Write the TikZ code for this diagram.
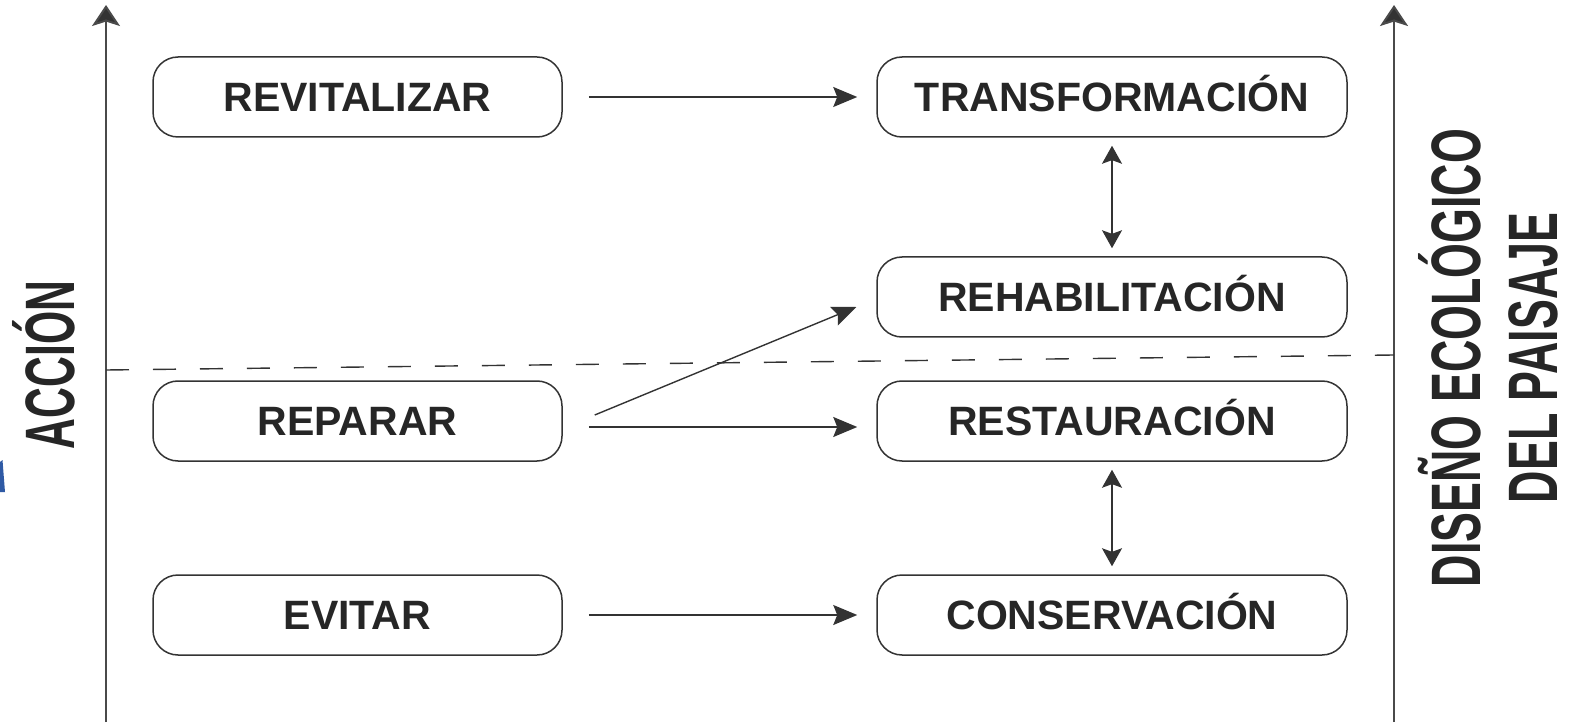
\documentclass[tikz,border=0pt]{standalone}
\usepackage{fontspec}
\setmainfont{Liberation Sans}
\usetikzlibrary{arrows.meta,calc}
\definecolor{ink}{HTML}{262626}
\definecolor{linec}{HTML}{333333}
\definecolor{axisc}{HTML}{4A4A4A}
\definecolor{bluemk}{HTML}{2F5AA5}
\begin{document}
\begin{tikzpicture}[x=0.5pt,y=-0.5pt,
 box/.style={draw=linec, line width=0.75pt, rounded corners=12.5pt, minimum height=40pt, inner sep=0pt, text=ink, text height=14.7pt, text depth=0pt, font=\fontsize{20.5}{24}\selectfont\bfseries},
 lbox/.style={box, minimum width=204.5pt},
 rbox/.style={box, minimum width=235pt},
 conn/.style={draw=linec, line width=0.7pt, -{Stealth[length=12pt,width=10pt,inset=2pt]}},
 dbl/.style={draw=linec, line width=0.7pt, {Stealth[length=9pt,width=10pt,inset=1.8pt]}-{Stealth[length=9pt,width=10pt,inset=1.8pt]}, shorten <=4pt, shorten >=4pt},
 axisline/.style={draw=axisc, line width=1pt, -{Stealth[length=10.5pt,width=14pt,inset=2.2pt,fill=linec]}},
 divline/.style={draw=linec, line width=0.7pt, dash pattern=on 11.5pt off 12pt},
 vlabel/.style={rotate=90, anchor=base, text=ink, inner sep=0pt, font=\fontsize{35}{40}\selectfont\bfseries}
]
\useasboundingbox (0,0) rectangle (1569,727);

% axes
\coordinate (lb) at (106,722); \coordinate (lt) at (106,5);
\coordinate (rb) at (1394,722); \coordinate (rt) at (1394,5);
\draw[axisline] (lb) -- (lt);
\draw[axisline] (rb) -- (rt);

% dashed divider
\coordinate (dl) at (106,370); \coordinate (dr) at (1394,355);
\draw[divline] (dl) -- (dr);

% boxes
\node[lbox] (rev) at (357.5,97) {REVITALIZAR};
\node[lbox] (rep) at (357.5,421) {REPARAR};
\node[lbox] (evi) at (357.5,615) {EVITAR};
\node[rbox] (tra) at (1112,97) {TRANSFORMACIÓN};
\node[rbox] (reh) at (1112,297) {REHABILITACIÓN};
\node[rbox] (res) at (1112,421) {RESTAURACIÓN};
\node[rbox] (con) at (1112,615) {CONSERVACIÓN};

% connectors
\draw[conn] ($(rev.east)+(26,0)$) -- ($(tra.west)+(-19,0)$);
\draw[conn] ($(rep.east)+(26,6)$) -- ($(res.west)+(-19,6)$);
\draw[conn] ($(evi.east)+(26,0)$) -- ($(con.west)+(-19,0)$);
\draw[conn] ($(rep.east)+(32,-6)$) -- ($(reh.west)+(-20,10)$);
\draw[dbl] (tra.south) -- (reh.north);
\draw[dbl] (res.south) -- (con.north);

% vertical labels
\node[vlabel] (acc) at (74,365) {\scalebox{0.61}[1]{ACCIÓN}};
\node[vlabel] (dis) at (1480,358) {\scalebox{0.64}[1]{DISEÑO ECOLÓGICO}};
\node[vlabel] (del) at (1557,358) {\scalebox{0.64}[1]{DEL PAISAJE}};

% small blue mark at left edge
\fill[bluemk] (0,462) -- (2.5,460) -- (5,492) -- (0,492) -- cycle;
\end{tikzpicture}
\end{document}
